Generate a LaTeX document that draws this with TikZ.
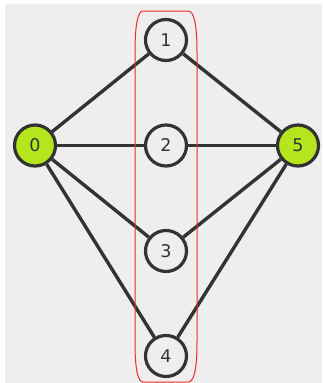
\documentclass[tikz,border=0pt]{standalone}
\usepackage{fontspec}
\setmainfont{DejaVu Sans}
\definecolor{bg}{HTML}{EEEEEE}
\definecolor{ink}{HTML}{333333}
\definecolor{lime}{HTML}{B5E61D}
\definecolor{redline}{HTML}{EE2A2A}
\begin{document}
\begin{tikzpicture}[x=1pt,y=-1pt,
  vertex/.style={circle,draw=ink,line width=3.2pt,fill=bg,minimum size=41pt,inner sep=0pt,
    font=\fontsize{17.5}{17.5}\selectfont,text=ink},
  endvertex/.style={vertex,fill=lime},
  edge/.style={draw=ink,line width=3.4pt},
  group/.style={draw=redline,line width=1pt}]
\useasboundingbox (0,0) rectangle (322,383);
\fill[bg] (5,4) rectangle (322,383);
\node[endvertex] (n0) at (35,145.5) {0};
\node[vertex] (n1) at (166,40) {1};
\node[vertex] (n2) at (166,145.5) {2};
\node[vertex] (n3) at (166,251) {3};
\node[vertex] (n4) at (166,356) {4};
\node[endvertex] (n5) at (298,145.5) {5};
\foreach \t in {n1,n2,n3,n4}{
  \path[edge] (n0) -- (\t);
  \path[edge] (n5) -- (\t);
}
\draw[group] (135,52) .. controls (135,24) and (138,11) .. (143,11) -- (188,11)
  .. controls (194,11) and (197,24) .. (197,52) -- (197,342)
  .. controls (197,370) and (194,382) .. (188,382) -- (143,382)
  .. controls (138,382) and (135,370) .. (135,342) -- cycle;
\end{tikzpicture}
\end{document}
